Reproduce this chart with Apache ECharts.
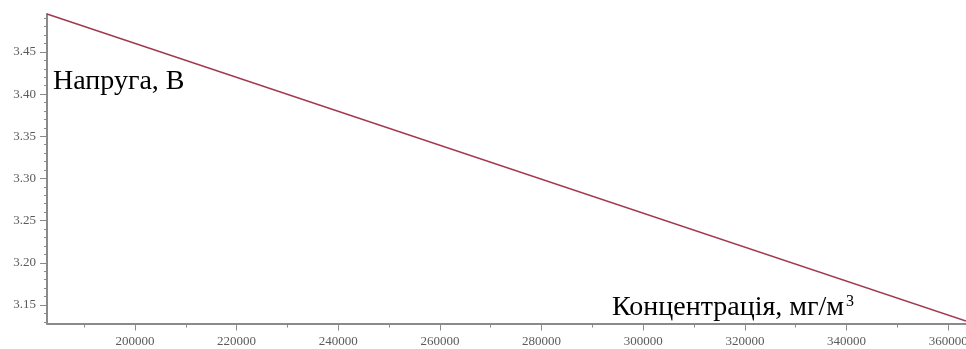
<!DOCTYPE html>
<html>
<head>
<meta charset="utf-8">
<script src="https://cdn.jsdelivr.net/npm/echarts@6/dist/echarts.min.js"></script>
<style>
  html, body { margin: 0; padding: 0; background: #fff; }
  #chart { width: 966px; height: 349px; }
</style>
</head>
<body>
<div id="chart"></div>
<script>
// Voltage vs concentration (linear calibration)
const concentration = [182700, 363500];   // мг/м³
const voltage = [3.495, 3.131];           // В

const xMajorTicks = [200000, 220000, 240000, 260000, 280000, 300000, 320000, 340000, 360000];
const xMinorTicks = [190000, 210000, 230000, 250000, 270000, 290000, 310000, 330000, 350000];
const yMajorTicks = [3.15, 3.20, 3.25, 3.30, 3.35, 3.40, 3.45];
const yMinorTicks = [3.13, 3.14, 3.16, 3.17, 3.18, 3.19, 3.21, 3.22, 3.23, 3.24, 3.26, 3.27, 3.28, 3.29,
  3.31, 3.32, 3.33, 3.34, 3.36, 3.37, 3.38, 3.39, 3.41, 3.42, 3.43, 3.44, 3.46, 3.47, 3.48, 3.49];

const xMin = 182700, xMax = 363500;
const yMin = 3.128, yMax = 3.495;

const axisGrey = '#8a8a8a';
const labelStyle = { color: '#5a5a5a', fontFamily: 'Liberation Serif', fontSize: 13 };

function xAxisDef(ticks, len, showLabels, showLine) {
  return {
    type: 'value', min: xMin, max: xMax, position: 'bottom',
    axisLine: { show: showLine, onZero: false, lineStyle: { color: axisGrey, width: 2 } },
    axisTick: { show: true, length: len, customValues: ticks, lineStyle: { color: axisGrey, width: 1 } },
    axisLabel: showLabels
      ? Object.assign({ customValues: ticks, margin: 12, formatter: v => String(v) }, labelStyle)
      : { show: false },
    splitLine: { show: false }
  };
}
function yAxisDef(ticks, len, showLabels, showLine) {
  return {
    type: 'value', min: yMin, max: yMax, position: 'left',
    axisLine: { show: showLine, onZero: false, lineStyle: { color: axisGrey, width: 2 } },
    axisTick: { show: true, length: len, customValues: ticks, lineStyle: { color: axisGrey, width: 1 } },
    axisLabel: showLabels
      ? Object.assign({ customValues: ticks, margin: 11, formatter: v => v.toFixed(2) }, labelStyle)
      : { show: false },
    splitLine: { show: false }
  };
}

const chart = echarts.init(document.getElementById('chart'), null, { renderer: 'canvas' });
chart.setOption({
  animation: false,
  backgroundColor: '#fff',
  grid: { left: 47, right: 0, top: 14, bottom: 25.5, containLabel: false, outerBoundsMode: 'none' },
  xAxis: [xAxisDef(xMajorTicks, 7, true, true), xAxisDef(xMinorTicks, 4, false, false)],
  yAxis: [yAxisDef(yMajorTicks, 7, true, true), yAxisDef(yMinorTicks, 3, false, false)],
  series: [{
    type: 'line',
    xAxisIndex: 0, yAxisIndex: 0,
    data: concentration.map((c, i) => [c, voltage[i]]),
    showSymbol: false,
    lineStyle: { color: '#a23a4e', width: 1.6 },
    clip: false
  }],
  graphic: [
    {
      type: 'text', left: 53, top: 68,
      style: { text: 'Напруга, В', fill: '#000', font: '28px "Liberation Serif"' }
    },
    {
      type: 'text', left: 612, top: 294,
      style: {
        text: '{t|Концентрація, мг/м}{s|3}',
        rich: {
          t: { fill: '#000', fontFamily: 'Liberation Serif', fontSize: 28, verticalAlign: 'bottom' },
          s: { fill: '#000', fontFamily: 'Liberation Serif', fontSize: 16, verticalAlign: 'top', padding: [0, 0, 12, 2] }
        }
      }
    }
  ]
});
</script>
</body>
</html>
